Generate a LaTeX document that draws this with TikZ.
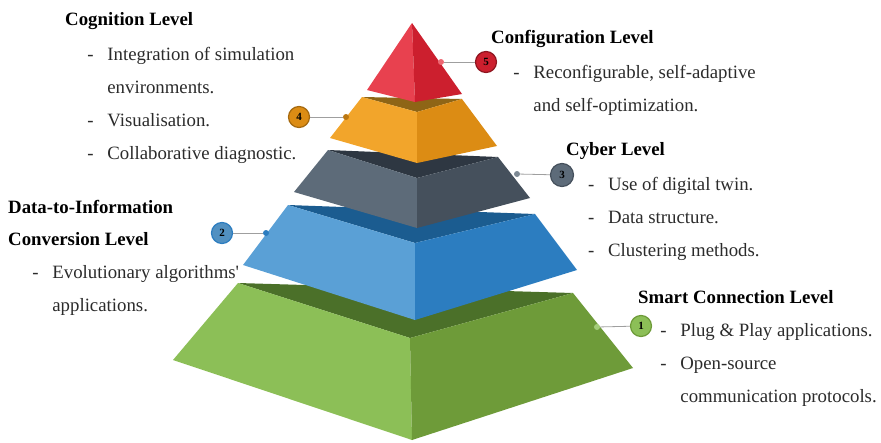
\documentclass[tikz,border=0pt]{standalone}
\usepackage{fontspec}
\setmainfont{Liberation Serif}
\usepackage{tikz}
\usetikzlibrary{matrix,shapes,positioning,calc}
\usepackage{xcolor}

\definecolor{redL}{HTML}{E8414F}
\definecolor{redR}{HTML}{CC1F2E}
\definecolor{orgL}{HTML}{F2A52B}
\definecolor{orgR}{HTML}{DC8C14}
\definecolor{orgT}{HTML}{8E6516}
\definecolor{gryL}{HTML}{5D6B79}
\definecolor{gryR}{HTML}{45505C}
\definecolor{gryT}{HTML}{2E3742}
\definecolor{bluL}{HTML}{5AA0D6}
\definecolor{bluR}{HTML}{2C7DC0}
\definecolor{bluT}{HTML}{1B5C90}
\definecolor{grnL}{HTML}{8CBF57}
\definecolor{grnR}{HTML}{6E9B39}
\definecolor{grnT}{HTML}{4B7029}
\definecolor{txt}{HTML}{2B2B2B}

\newcommand{\itemfont}{\fontsize{18.8}{33}\selectfont}
\newcommand{\numfont}{\fontsize{11}{11}\selectfont\bfseries}
% one frustum: colour prefix, then TL, TR, TF, BL, BF, BR
\newcommand{\layer}[7]{%
	\fill[#1T] #2 -- #3 -- #4 -- cycle;
	\fill[#1L] #2 -- #4 -- #6 -- #5 -- cycle;
	\fill[#1R] #4 -- #3 -- #7 -- #6 -- cycle;
}

\begin{document}
\begin{tikzpicture}[x=1pt, y=-1pt,
	head/.style={anchor=base west, inner sep=0pt, font=\itemfont\bfseries},
	items/.style={matrix of nodes, anchor=north west, inner sep=0pt, row sep=0pt, column sep=0pt,
		nodes={anchor=base west, inner sep=0pt, text height=23pt, text depth=10pt, font=\itemfont, text=txt},
		column 1/.style={nodes={text width=20pt}}},
	dot/.style={circle, inner sep=0pt, minimum size=6pt},
	badge/.style={circle, inner sep=0pt, minimum size=21pt, line width=1.2pt, font=\numfont},
	conn/.style={draw=gray!75, line width=0.8pt}]
	\label{fig:pyramid}
	\useasboundingbox (0,0) rectangle (881,442);

	% layers, bottom to top
	\layer{grn}{(238,283)}{(573,293)}{(410,338)}{(173,360)}{(412,440)}{(633,368)}
	\layer{blu}{(288,205)}{(535,214)}{(415,243)}{(243,265)}{(415,320)}{(577,270)}
	\layer{gry}{(328,150)}{(498,157)}{(417,178)}{(294,192)}{(417,228)}{(530,198)}
	\layer{org}{(362,97)}{(462,99)}{(417,112)}{(330,138)}{(417,163)}{(497,146)}
	\fill[redL] (412,23) -- (367,90) -- (415,102) -- cycle;
	\fill[redR] (412,23) -- (415,102) -- (462,94) -- cycle;

	% numbered markers
	\node[dot, fill=grnL!80!white] (p1) at (597,327) {};
	\node[badge, fill=grnL, draw=grnR] (n1) at (641,326) {1};
	\node[dot, fill=bluR] (p2) at (266,233) {};
	\node[badge, fill=bluL!90!black, draw=bluR] (n2) at (222,233) {2};
	\node[dot, fill=gryL!80!white] (p3) at (517,174) {};
	\node[badge, fill=gryL, draw=gryR, minimum size=23pt] (n3) at (562,175) {3};
	\node[dot, fill=orgR!85!black] (p4) at (346,117) {};
	\node[badge, fill=orgR, draw=orgR!75!black] (n4) at (299,117) {4};
	\node[dot, fill=redL!80!white] (p5) at (441,62) {};
	\node[badge, fill=redR, draw=redR!70!black] (n5) at (486,62) {5};

	\draw[conn] (p1) -- (n1);
	\draw[conn] (p2) -- (n2);
	\draw[conn] (p3) -- (n3);
	\draw[conn] (p4) -- (n4);
	\draw[conn] (p5) -- (n5);

	% level descriptions
	\node[head] (t4) at (65,25) {Cognition Level};
	\matrix (m4) [items] at (87,37) {
		- & Integration of simulation \\
		  & environments. \\
		- & Visualisation. \\
		- & Collaborative diagnostic. \\
	};

	\node[head] (t5) at (491,43) {Configuration Level};
	\matrix (m5) [items] at (513,55) {
		- & Reconfigurable, self-adaptive \\
		  & and self-optimization. \\
	};

	\node[head] (t3) at (566,155) {Cyber Level};
	\matrix (m3) [items] at (588,167) {
		- & Use of digital twin. \\
		- & Data structure. \\
		- & Clustering methods. \\
	};

	\node[head] (t2) at (8,213) {Data-to-Information};
	\node[head] (t2b) at (8,245) {Conversion Level};
	\matrix (m2) [items] at (32,255) {
		- & Evolutionary algorithms\textquotesingle \\
		  & applications. \\
	};

	\node[head] (t1) at (638,303) {Smart Connection Level};
	\matrix (m1) [items] at (660,313) {
		- & Plug \& Play applications. \\
		- & Open-source \\
		  & communication protocols. \\
	};
\end{tikzpicture}
\end{document}
